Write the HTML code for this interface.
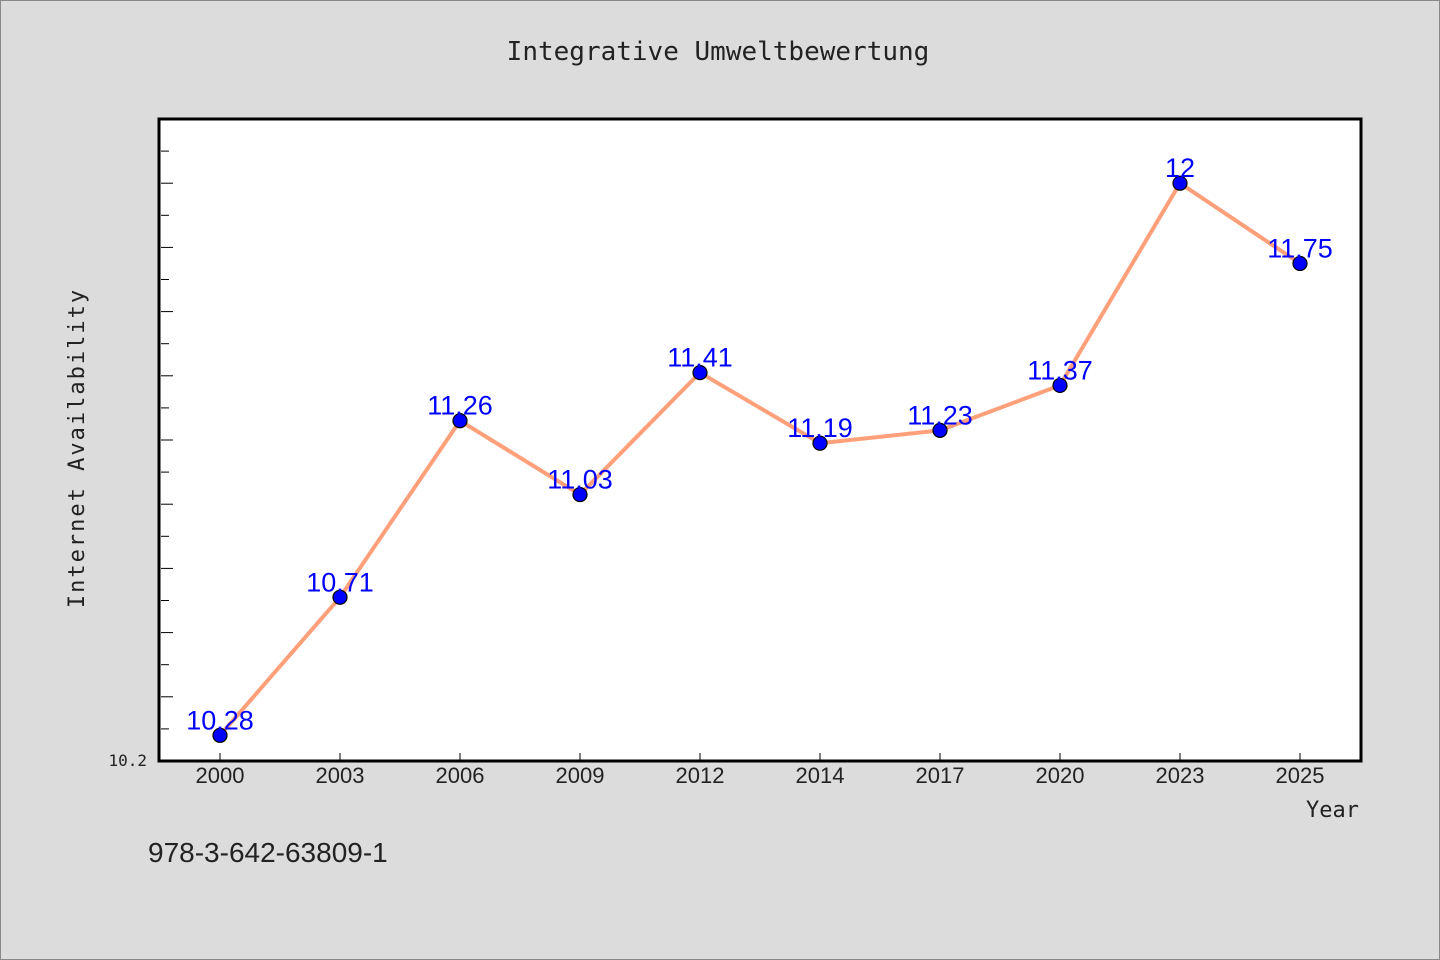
<!DOCTYPE html>
<html><head><meta charset="utf-8"><style>
body{margin:0;background:#dcdcdc;}
svg{display:block;font-family:"DejaVu Sans Mono","Liberation Mono",monospace;}
</style></head><body>
<svg width="1440" height="960">
<rect x="0.5" y="0.5" width="1439" height="959" fill="#dcdcdc" stroke="#888"/>
<text x="718" y="60" text-anchor="middle" font-size="26" fill="#222">Integrative Umweltbewertung</text>
<rect x="159" y="119" width="1202" height="642" fill="#fff" stroke="#000" stroke-width="3"/>
<g id="yticks"></g><g id="xticks"></g>
<text x="147" y="766" text-anchor="end" font-size="16" fill="#222">10.2</text>
<text transform="translate(84,448) rotate(-90)" text-anchor="middle" font-size="22" letter-spacing="2" fill="#222">Internet Availability</text>
<text x="1359" y="817" text-anchor="end" font-size="22" fill="#222">Year</text>
<text x="148" y="862" font-size="28" fill="#222" font-family="Liberation Sans, sans-serif">978-3-642-63809-1</text>
<polyline id="line" fill="none" stroke="#ffa07a" stroke-width="4" stroke-linejoin="round"/>
<g id="points"></g>
</svg>
<script>
const categories=["2000","2003","2006","2009","2012","2014","2017","2020","2023","2025"];
const values=[10.28,10.71,11.26,11.03,11.41,11.19,11.23,11.37,12,11.75];
const yMin=10.2,yMax=12.2;
const ns="http://www.w3.org/2000/svg";
function xs(i){return 220+i*120;}
function ys(v){return 761-(v-yMin)/(yMax-yMin)*642;}
const yt=document.getElementById('yticks');
for(let k=1;k<=19;k++){const v=yMin+k*0.1;const l=document.createElementNS(ns,'line');
l.setAttribute('x1',161);l.setAttribute('x2',k%2==0?173:169);l.setAttribute('y1',ys(v));l.setAttribute('y2',ys(v));l.setAttribute('stroke','#000');


yt.appendChild(l);}
const xt=document.getElementById('xticks');
categories.forEach((c,i)=>{const l=document.createElementNS(ns,'line');
l.setAttribute('x1',xs(i));l.setAttribute('x2',xs(i));l.setAttribute('y1',760);l.setAttribute('y2',753);l.setAttribute('stroke','#000');


xt.appendChild(l);
const t=document.createElementNS(ns,'text');t.setAttribute('x',xs(i));t.setAttribute('y',783);t.setAttribute('text-anchor','middle');t.setAttribute('font-size','22');t.setAttribute('fill','#222');t.setAttribute('font-family','Liberation Sans, sans-serif');t.textContent=c;


xt.appendChild(t);});
document.getElementById('line').setAttribute('points',values.map((v,i)=>xs(i)+','+ys(v)).join(' '));
const pg=document.getElementById('points');
values.forEach((v,i)=>{const c=document.createElementNS(ns,'circle');
c.setAttribute('cx',xs(i));c.setAttribute('cy',ys(v));c.setAttribute('r',7);c.setAttribute('fill','#0000ff');c.setAttribute('stroke','#000');c.setAttribute('stroke-width','1.2');


pg.appendChild(c);
const t=document.createElementNS(ns,'text');t.setAttribute('x',xs(i));t.setAttribute('y',ys(v)-6);t.setAttribute('text-anchor','middle');t.setAttribute('font-size','27');t.setAttribute('fill','#0000ff');t.setAttribute('font-family','Liberation Sans, sans-serif');t.textContent=String(v);


pg.appendChild(t);});
</script>
</body></html>
